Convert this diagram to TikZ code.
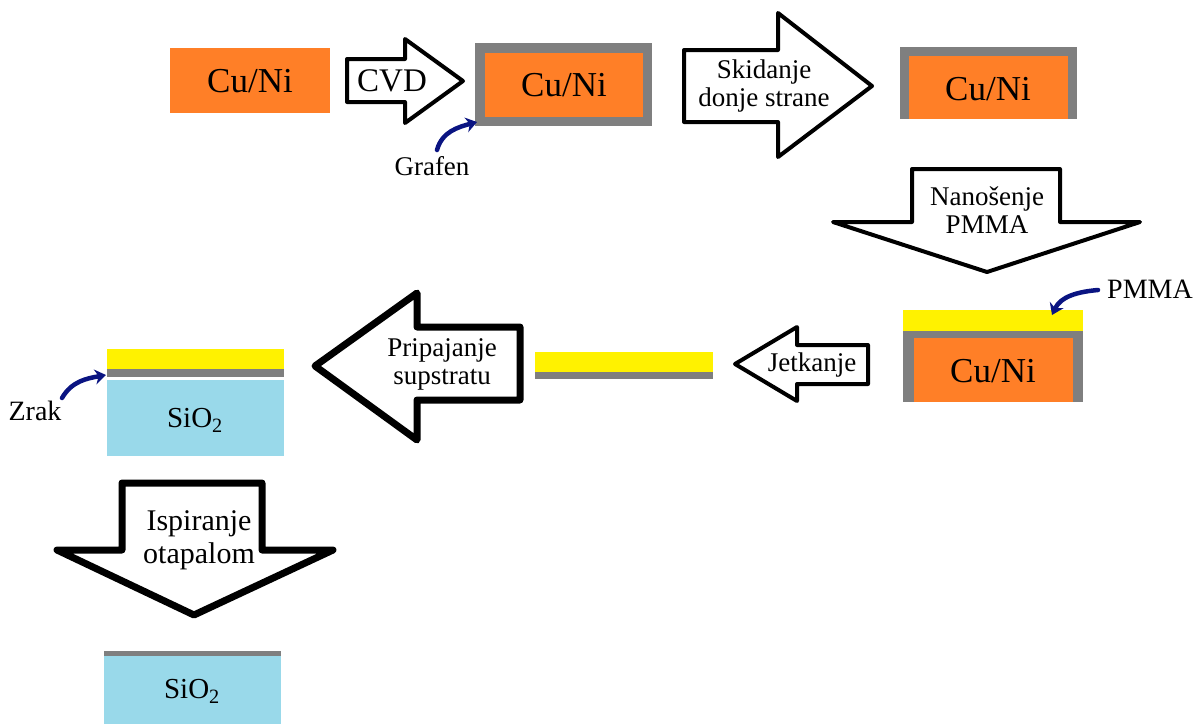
\documentclass[tikz,border=0pt]{standalone}
\usepackage{fontspec}
\setmainfont{Liberation Serif}
\usetikzlibrary{arrows.meta}
\definecolor{cuorange}{RGB}{255,127,39}
\definecolor{grafgray}{RGB}{127,127,127}
\definecolor{pmmayel}{RGB}{255,242,0}
\definecolor{sioblue}{RGB}{153,217,234}
\definecolor{annblue}{RGB}{10,20,130}
\begin{document}
\begin{tikzpicture}[x=1pt,y=-1pt,
  bigarrow/.style={draw=black,fill=white,line width=4pt,line join=round},
  thickarrow/.style={draw=black,fill=white,line width=7pt,line join=round},
  lbl/.style={font=\fontsize{27}{28}\selectfont,align=center,inner sep=0pt},
  biglbl/.style={font=\fontsize{30}{33}\selectfont,align=center,inner sep=0pt},
  siotext/.style={font=\fontsize{29}{30}\selectfont,inner sep=0pt},
  cutext/.style={font=\fontsize{35}{38}\selectfont,inner sep=0pt},
  ann/.style={annblue,line width=4.5pt,line cap=round,-{Stealth[length=11pt,width=15pt]}}
]
\useasboundingbox (0,0) rectangle (1201,724);
\fill[white] (0,0) rectangle (1201,724);

% --- Box 1
\fill[cuorange] (170,48) rectangle (330,113);
\node[cutext] (cu1) at (250,81) {Cu/Ni};

% --- CVD arrow
\draw[bigarrow] (347,59) -- (405,59) -- (405,39) -- (463,81) -- (405,123) -- (405,102) -- (347,102) -- cycle;
\node[font=\fontsize{33}{36}\selectfont,inner sep=0pt] (cvd) at (392,81) {CVD};

% --- Box 2
\fill[grafgray] (475,43) rectangle (652,126);
\fill[cuorange] (485,53) rectangle (643,117);
\node[cutext] (cu2) at (564,85) {Cu/Ni};
\node[lbl] (graf) at (432,166) {Grafen};
\coordinate (grafA) at (437,150);
\coordinate (grafB) at (477,122);
\draw[ann] (grafA) to[out=75,in=195] (grafB);

% --- Skidanje arrow
\draw[bigarrow] (684,50) -- (778,50) -- (778,13) -- (872,86) -- (778,157) -- (778,122) -- (684,122) -- cycle;
\node[lbl] (skid) at (764,86) {Skidanje\\donje strane};

% --- Box 3
\fill[grafgray] (900,47) rectangle (1077,119);
\fill[cuorange] (909,56) rectangle (1068,119);
\node[cutext] (cu3) at (988,89) {Cu/Ni};

% --- Nanosenje arrow
\draw[bigarrow] (912,169) -- (1060,169) -- (1060,222) -- (1140,222) -- (987,272) -- (833,222) -- (912,222) -- cycle;
\node[lbl] (nan) at (987,210) {Nanošenje\\PMMA};

% --- PMMA stack
\fill[pmmayel] (903,310) rectangle (1083,331);
\fill[grafgray] (903,331) rectangle (1083,402);
\fill[cuorange] (914,338) rectangle (1073,402);
\node[cutext] (cu4) at (993,371) {Cu/Ni};
\node[font=\fontsize{28}{30}\selectfont,inner sep=0pt] (pmma) at (1150,289) {PMMA};
\coordinate (pmA) at (1098,290);
\coordinate (pmB) at (1052,315);
\draw[ann] (pmA) to[out=185,in=65] (pmB);

% --- Jetkanje arrow
\draw[bigarrow] (868,345) -- (797,345) -- (797,327) -- (735,364) -- (797,401) -- (797,384) -- (868,384) -- cycle;
\node[lbl] (jet) at (812,365) {Jetkanje};

% --- middle strip
\fill[pmmayel] (535,352) rectangle (713,372);
\fill[grafgray] (535,372) rectangle (713,379);

% --- Pripajanje arrow
\draw[thickarrow] (520,327) -- (417,327) -- (417,293) -- (315,366) -- (417,440) -- (417,400) -- (520,400) -- cycle;
\node[lbl] (prip) at (442,364) {Pripajanje\\supstratu};

% --- left stack
\fill[pmmayel] (107,349) rectangle (284,369);
\fill[grafgray] (107,369) rectangle (284,377);
\fill[sioblue] (107,380) rectangle (284,456);
\node[siotext] (sio1) at (195,420) {SiO\textsubscript{2}};
\node[font=\fontsize{28}{30}\selectfont,inner sep=0pt] (zrak) at (35,411) {Zrak};
\coordinate (zrA) at (62,398);
\coordinate (zrB) at (106,375);
\draw[ann] (zrA) to[out=60,in=190] (zrB);

% --- Ispiranje arrow
\draw[thickarrow] (122,483) -- (262,483) -- (262,550) -- (333,550) -- (194,615) -- (57,550) -- (122,550) -- cycle;
\node[biglbl] (isp) at (199,540) {Ispiranje\\otapalom};

% --- bottom stack
\fill[grafgray] (104,651) rectangle (281,656);
\fill[sioblue] (104,656) rectangle (281,724);
\node[siotext] (sio2) at (192,691) {SiO\textsubscript{2}};
\end{tikzpicture}
\end{document}
